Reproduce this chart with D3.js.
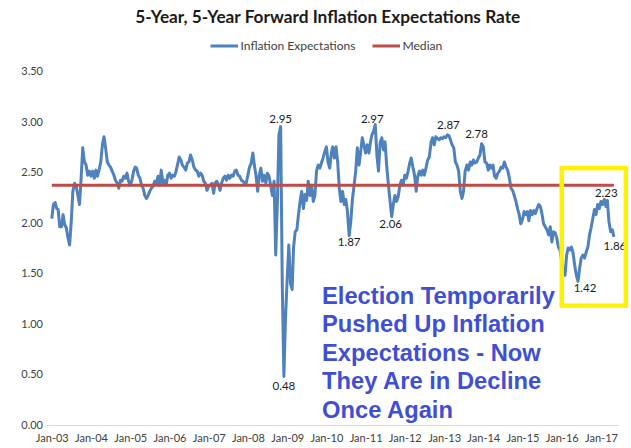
<!DOCTYPE html>
<html><head><meta charset="utf-8">
<script src="https://cdn.jsdelivr.net/npm/d3@7"></script>
<style>body{margin:0;background:#fff}svg{display:block}</style>
</head><body>
<svg id="c" width="631" height="448"></svg>
<script>
// ---------------- data ----------------
const chartTitle = "5-Year, 5-Year Forward Inflation Expectations Rate";
const seriesNames = ["Inflation Expectations", "Median"];
const startYear = 2003; // semimonthly observations (1st and 16th of each month)
const expectations = [
  // 2003
  2.04,2.18,2.20,2.14,2.13,1.96,1.96,2.08,1.98,1.95,1.85,1.78,2.01,2.31,2.39,2.36,2.27,2.18,2.44,2.74,2.60,2.57,2.47,2.51,
  // 2004
  2.46,2.51,2.44,2.52,2.46,2.52,2.60,2.77,2.85,2.74,2.60,2.57,2.55,2.51,2.47,2.42,2.39,2.34,2.42,2.41,2.46,2.44,2.49,2.41,
  // 2005
  2.37,2.42,2.51,2.55,2.54,2.47,2.44,2.37,2.34,2.27,2.24,2.27,2.31,2.34,2.36,2.41,2.39,2.46,2.37,2.52,2.39,2.42,2.37,2.47,
  // 2006
  2.49,2.44,2.47,2.46,2.50,2.57,2.65,2.62,2.57,2.55,2.52,2.59,2.60,2.67,2.62,2.55,2.52,2.51,2.46,2.49,2.47,2.41,2.39,2.32,
  // 2007
  2.36,2.37,2.39,2.29,2.39,2.41,2.38,2.32,2.39,2.44,2.46,2.42,2.47,2.44,2.47,2.46,2.51,2.52,2.47,2.46,2.42,2.41,2.39,2.39,
  // 2008
  2.47,2.55,2.59,2.69,2.57,2.47,2.31,2.47,2.54,2.41,2.47,2.39,2.49,2.46,2.36,2.27,2.41,1.68,2.18,2.87,2.95,1.40,0.48,1.05,
  // 2009
  1.45,1.78,1.40,1.34,1.75,1.91,1.93,2.08,2.21,2.31,2.14,2.28,2.22,2.41,2.27,2.37,2.21,2.27,2.51,2.57,2.54,2.59,2.64,2.70,
  // 2010
  2.75,2.60,2.54,2.69,2.75,2.64,2.75,2.60,2.34,2.21,2.31,2.18,2.23,2.11,1.87,2.01,2.24,2.37,2.51,2.74,2.57,2.70,2.84,2.77,
  // 2011
  2.69,2.77,2.69,2.80,2.87,2.90,2.97,2.67,2.51,2.79,2.84,2.72,2.80,2.57,2.38,2.22,2.06,2.18,2.27,2.21,2.26,2.37,2.42,2.37,
  // 2012
  2.47,2.44,2.51,2.59,2.64,2.55,2.47,2.31,2.46,2.51,2.47,2.52,2.47,2.54,2.62,2.65,2.79,2.84,2.77,2.85,2.83,2.82,2.84,2.83,
  // 2013
  2.85,2.84,2.87,2.86,2.82,2.77,2.74,2.60,2.57,2.51,2.31,2.24,2.31,2.51,2.57,2.52,2.60,2.57,2.62,2.59,2.60,2.64,2.67,2.78,
  // 2014
  2.75,2.60,2.59,2.52,2.57,2.54,2.57,2.46,2.44,2.49,2.51,2.55,2.54,2.60,2.55,2.52,2.44,2.34,2.32,2.27,2.21,2.14,2.08,1.99,
  // 2015
  2.03,2.11,2.08,2.11,2.02,2.12,2.08,2.12,2.09,2.14,2.18,2.16,2.09,1.99,1.96,1.93,1.88,1.96,1.81,1.91,1.90,1.85,1.76,1.73,
  // 2016
  1.62,1.52,1.48,1.68,1.75,1.73,1.76,1.70,1.58,1.48,1.42,1.55,1.65,1.68,1.65,1.71,1.76,1.88,1.95,2.04,2.13,2.08,2.18,2.14,
  // 2017
  2.21,2.18,2.23,2.16,2.22,2.01,1.91,1.93,1.86
];
const medianValue = 2.37;
const yTickValues = [0, 0.5, 1, 1.5, 2, 2.5, 3, 3.5];
const xTickYears = [2003,2004,2005,2006,2007,2008,2009,2010,2011,2012,2013,2014,2015,2016,2017];
const labelIndex = [140, 142, 182, 198, 208, 242, 263, 322, 338, 344];
const labelText  = ["2.95","0.48","1.87","2.97","2.06","2.87","2.78","1.42","2.23","1.86"];
const highlightDates = ["2016-01-01", "2017-08-20"];
const highlightValues = [1.18, 2.54];
const annotationLines = ["Election Temporarily","Pushed Up Inflation","Expectations - Now","They Are in Decline","Once Again"];

// ---------------- layout / style ----------------
const labelOffsets = [[0,-4],[0,14],[0,10],[-3,-2],[-1,11],[1,-6],[-5,-6],[7,11],[2,-2],[1,13]];
const blue = "#4f81bd", red = "#be4b48", yellow = "#fff200", annBlue = "#3f4fd3";

const svg = d3.select("#c");
const x = d3.scaleTime().domain([new Date(2003,0,1), new Date(2017,0,1)]).range([51.8, 601]);
const y = d3.scaleLinear().domain([0, 3.5]).range([425, 71]);
const dateOf = i => new Date(startYear, Math.floor(i/2), i % 2 ? 16 : 1);
const pts = expectations.map((v,i) => ({date: dateOf(i), value: v}));

function fit(sel, target){
  const n = sel.node(); const fs = parseFloat(sel.attr("font-size"));
  const w = n.getComputedTextLength(); if (w>0) sel.attr("font-size", fs*target/w);
}

// title
const t = svg.append("text").attr("x", 327.8).attr("y", 23).attr("text-anchor","middle")
  .attr("font-family","Lato, 'Open Sans', sans-serif").attr("font-weight","bold")
  .attr("font-size",15.5).attr("fill","#1a1a1a").text(chartTitle);
fit(t, 385);

// legend
const lg = svg.append("g").attr("font-family","Lato, sans-serif").attr("fill","#404040");
const legendItems = [
  {name: seriesNames[0], color: blue, x0: 210.5, x1: 238, tx: 240.5, w: 115},
  {name: seriesNames[1], color: red, x0: 372.5, x1: 400, tx: 402.4, w: 40}
];
legendItems.forEach(it => {
  lg.append("line").attr("x1",it.x0).attr("x2",it.x1).attr("y1",46).attr("y2",46)
    .attr("stroke",it.color).attr("stroke-width",3);
  const tt = lg.append("text").attr("x",it.tx).attr("y",50).attr("font-size",11.5).text(it.name);
  fit(tt, it.w);
});

// axes
const xAxis = svg.append("g").attr("transform","translate(0,425)")
  .call(d3.axisBottom(x).tickValues(xTickYears.map(yr => new Date(yr,0,1)))
    .tickFormat(d3.timeFormat("Jan-%y")).tickSize(0).tickPadding(9));
xAxis.select(".domain").remove();
xAxis.selectAll("text").attr("font-family","Lato, sans-serif").attr("font-size",11).attr("fill","#404040");
svg.append("line").attr("x1",47).attr("x2",619).attr("y1",y(0)+0.5).attr("y2",y(0)+0.5)
  .attr("stroke","#d9d9d9").attr("stroke-width",1);

const yAxis = svg.append("g").attr("transform","translate(47,0)")
  .call(d3.axisLeft(y).tickValues(yTickValues).tickFormat(d3.format(".2f")).tickSize(0).tickPadding(4));
yAxis.select(".domain").remove();
yAxis.selectAll("text").attr("font-family","Lato, sans-serif").attr("font-size",11).attr("fill","#404040");

// series line
svg.append("path").datum(pts)
  .attr("fill","none").attr("stroke",blue).attr("stroke-width",3).attr("stroke-linejoin","round")
  .attr("d", d3.line().x(d => x(d.date)).y(d => y(d.value)));

// median line
svg.append("line")
  .attr("x1", x(pts[0].date)).attr("x2", x(pts[pts.length-1].date))
  .attr("y1", y(medianValue)).attr("y2", y(medianValue))
  .attr("stroke", red).attr("stroke-width", 3);

// data labels
svg.append("g").attr("font-family","Lato, sans-serif").attr("font-size",11.5).attr("fill","#1a1a1a")
  .attr("text-anchor","middle")
  .selectAll("text").data(labelIndex).join("text")
  .attr("x",(d,k) => x(pts[d].date) + labelOffsets[k][0])
  .attr("y",(d,k) => y(pts[d].value) + labelOffsets[k][1])
  .text((d,k) => labelText[k]);

// highlight box
const hx0 = x(new Date(highlightDates[0])), hx1 = x(new Date(highlightDates[1]));
svg.append("rect").attr("x",hx0).attr("y",y(highlightValues[1]))
  .attr("width",hx1-hx0).attr("height",y(highlightValues[0])-y(highlightValues[1]))
  .attr("fill","none").attr("stroke",yellow).attr("stroke-width",4.5);

// annotation
const ann = svg.append("g").attr("font-family","'Liberation Sans', Arial, sans-serif")
  .attr("font-weight","bold").attr("fill",annBlue);
annotationLines.forEach((s,k) => {
  ann.append("text").attr("x",322).attr("y",303.5 + k*28.6).attr("font-size",20).text(s);
});
const w0 = ann.select("text").node().getComputedTextLength();
if (w0 > 0) ann.selectAll("text").attr("font-size", 20*233/w0);
</script>
</body></html>
